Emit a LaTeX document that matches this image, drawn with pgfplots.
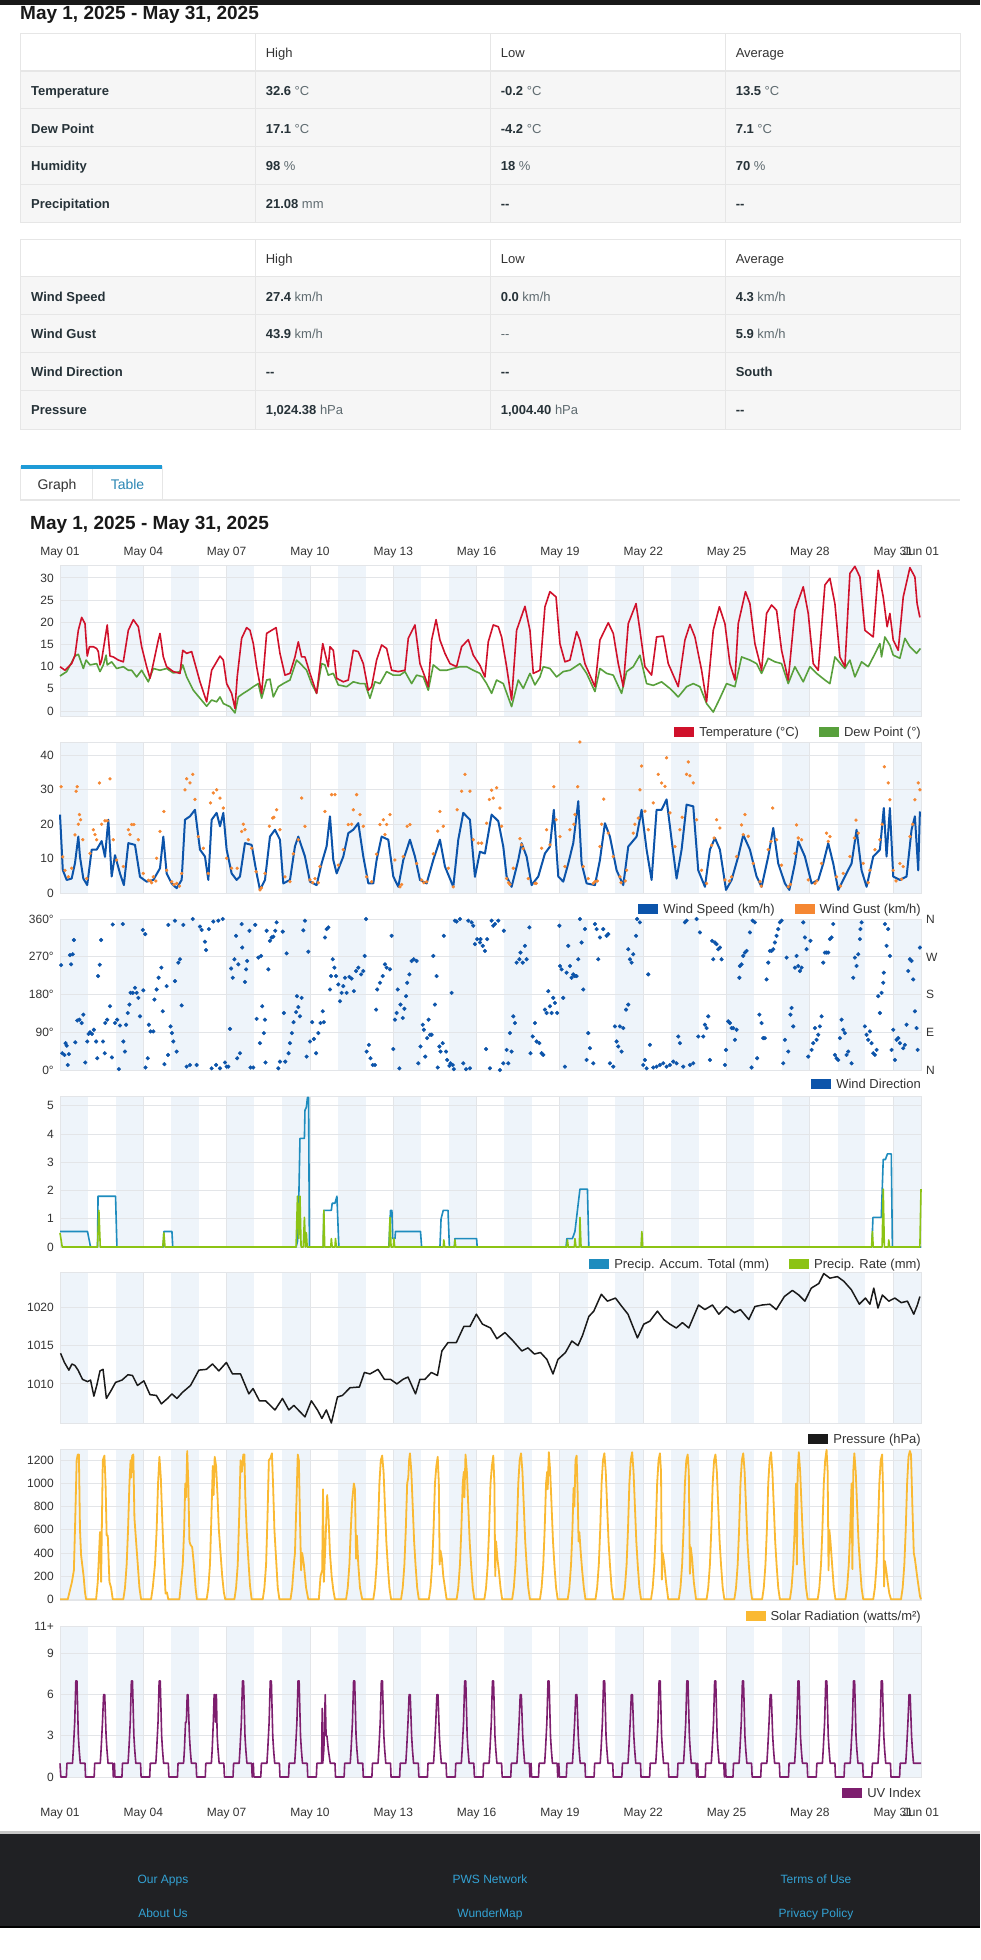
\documentclass[border=0pt]{standalone}
\usepackage{fontspec}
\setmainfont{Liberation Sans}
\usepackage{pgfplots}
\pgfplotsset{compat=1.18}
\definecolor{tempred}{HTML}{D0112B}
\definecolor{dewgreen}{HTML}{58A03C}
\definecolor{windblue}{HTML}{0C54AA}
\definecolor{gustorange}{HTML}{F58732}
\definecolor{accblue}{HTML}{1E8CBE}
\definecolor{rategreen}{HTML}{8CC314}
\definecolor{presblack}{HTML}{1A1A1A}
\definecolor{solaryellow}{HTML}{FAB932}
\definecolor{uvpurple}{HTML}{7D1E6E}
\definecolor{bandc}{HTML}{EEF4FA}
\definecolor{gridc}{HTML}{E3E5E8}
\definecolor{tickc}{HTML}{333333}
\definecolor{rowlab}{HTML}{263238}
\definecolor{unitc}{HTML}{5F6B70}
\definecolor{rowbg}{HTML}{F6F6F6}
\definecolor{linec}{HTML}{E6E6E6}
\definecolor{tabblue}{HTML}{1E9BD7}
\definecolor{tabtext}{HTML}{2A86B4}
\definecolor{footbg}{HTML}{202124}
\definecolor{footlink}{HTML}{33A2D4}
\newcommand{\tf}{\fontsize{13}{15}\selectfont}
\newcommand{\tfb}{\fontsize{13}{15}\selectfont\bfseries}
\newcommand{\lf}{\fontsize{13}{15}\selectfont}
\newcommand{\sw}[1]{\textcolor{#1}{\rule[-0.6pt]{20pt}{10pt}}}
\newcommand{\V}[2]{\textbf{#1} \textcolor{unitc}{#2}}
\newcommand{\D}{\textbf{-{}-}}
\pgfplotsset{
 wu/.style={
  width=861pt, height=151pt, scale only axis, anchor=south west,
  xmin=0, xmax=31,
  xtick={0,3,6,9,12,15,18,21,24,27,30,31},
  xticklabels={,,,,,,,,,,,},
  grid=major, major grid style={draw=gridc, line width=0.9pt},
  axis line style={draw=gridc, line width=0.9pt},
  major tick length=0pt,
  tick style={draw=none},
  tick label style={font=\fontsize{12}{14}\selectfont, text=tickc},
  yticklabel style={anchor=east, inner sep=0pt, xshift=-6pt},
  /pgf/number format/assume math mode=true,
  /pgf/number format/1000 sep={},
  scaled ticks=false,
  clip=false,
  every axis plot/.append style={line join=round},
 }
}
\begin{document}
\begin{tikzpicture}
\begin{scope}[x=1pt,y=-1pt]
\useasboundingbox (0,0) rectangle (980,1960);
\fill[white] (0,0) rectangle (980,1960);
% top bar
\fill[black!90] (0,0) rectangle (980,5);
\node[anchor=base west, inner sep=0pt, font=\fontsize{19}{22}\selectfont\bfseries, text=black!90] at (20,19) {May 1, 2025 - May 31, 2025};
% table 1
\fill[rowbg] (20,71) rectangle (960,222);
\draw[linec, line width=1pt] (20,33) rectangle (960,222);
\foreach \y in {71,108.5,146.5,184.5} \draw[linec, line width=1.5pt] (20,\y) -- (960,\y);
\foreach \x in {255,490,725} \draw[linec, line width=1pt] (\x,33) -- (\x,222);
\node[anchor=base west, inner sep=0pt, font=\tf, text=tickc] at (265.6,57.4) {High};
\node[anchor=base west, inner sep=0pt, font=\tf, text=tickc] at (500.6,57.4) {Low};
\node[anchor=base west, inner sep=0pt, font=\tf, text=tickc] at (735.6,57.4) {Average};
\node[anchor=base west, inner sep=0pt, font=\tfb, text=rowlab] at (31,95.4) {Temperature};
\node[anchor=base west, inner sep=0pt, font=\tfb, text=rowlab] at (31,133) {Dew Point};
\node[anchor=base west, inner sep=0pt, font=\tfb, text=rowlab] at (31,170.4) {Humidity};
\node[anchor=base west, inner sep=0pt, font=\tfb, text=rowlab] at (31,208.7) {Precipitation};
\node[anchor=base west, inner sep=0pt, font=\tf, text=rowlab] at (265.6,95.4) {\V{32.6}{°C}};
\node[anchor=base west, inner sep=0pt, font=\tf, text=rowlab] at (500.6,95.4) {\V{-0.2}{°C}};
\node[anchor=base west, inner sep=0pt, font=\tf, text=rowlab] at (735.6,95.4) {\V{13.5}{°C}};
\node[anchor=base west, inner sep=0pt, font=\tf, text=rowlab] at (265.6,133) {\V{17.1}{°C}};
\node[anchor=base west, inner sep=0pt, font=\tf, text=rowlab] at (500.6,133) {\V{-4.2}{°C}};
\node[anchor=base west, inner sep=0pt, font=\tf, text=rowlab] at (735.6,133) {\V{7.1}{°C}};
\node[anchor=base west, inner sep=0pt, font=\tf, text=rowlab] at (265.6,170.4) {\V{98}{\%}};
\node[anchor=base west, inner sep=0pt, font=\tf, text=rowlab] at (500.6,170.4) {\V{18}{\%}};
\node[anchor=base west, inner sep=0pt, font=\tf, text=rowlab] at (735.6,170.4) {\V{70}{\%}};
\node[anchor=base west, inner sep=0pt, font=\tf, text=rowlab] at (265.6,208.7) {\V{21.08}{mm}};
\node[anchor=base west, inner sep=0pt, font=\tf, text=rowlab] at (500.6,208.7) {\D};
\node[anchor=base west, inner sep=0pt, font=\tf, text=rowlab] at (735.6,208.7) {\D};
% table 2
\fill[rowbg] (20,276.7) rectangle (960,429);
\draw[linec, line width=1pt] (20,239.3) rectangle (960,429);
\foreach \y in {276.7,314.3,352.7,390.7} \draw[linec, line width=1.5pt] (20,\y) -- (960,\y);
\foreach \x in {255,490,725} \draw[linec, line width=1pt] (\x,239.3) -- (\x,429);
\node[anchor=base west, inner sep=0pt, font=\tf, text=tickc] at (265.6,263.7) {High};
\node[anchor=base west, inner sep=0pt, font=\tf, text=tickc] at (500.6,263.7) {Low};
\node[anchor=base west, inner sep=0pt, font=\tf, text=tickc] at (735.6,263.7) {Average};
\node[anchor=base west, inner sep=0pt, font=\tfb, text=rowlab] at (31,301.4) {Wind Speed};
\node[anchor=base west, inner sep=0pt, font=\tfb, text=rowlab] at (31,338.7) {Wind Gust};
\node[anchor=base west, inner sep=0pt, font=\tfb, text=rowlab] at (31,376.7) {Wind Direction};
\node[anchor=base west, inner sep=0pt, font=\tfb, text=rowlab] at (31,414) {Pressure};
\node[anchor=base west, inner sep=0pt, font=\tf, text=rowlab] at (265.6,301.4) {\V{27.4}{km/h}};
\node[anchor=base west, inner sep=0pt, font=\tf, text=rowlab] at (500.6,301.4) {\V{0.0}{km/h}};
\node[anchor=base west, inner sep=0pt, font=\tf, text=rowlab] at (735.6,301.4) {\V{4.3}{km/h}};
\node[anchor=base west, inner sep=0pt, font=\tf, text=rowlab] at (265.6,338.7) {\V{43.9}{km/h}};
\node[anchor=base west, inner sep=0pt, font=\tf, text=unitc] at (500.6,338.7) {-{}-};
\node[anchor=base west, inner sep=0pt, font=\tf, text=rowlab] at (735.6,338.7) {\V{5.9}{km/h}};
\node[anchor=base west, inner sep=0pt, font=\tf, text=rowlab] at (265.6,376.7) {\D};
\node[anchor=base west, inner sep=0pt, font=\tf, text=rowlab] at (500.6,376.7) {\D};
\node[anchor=base west, inner sep=0pt, font=\tf, text=rowlab] at (735.6,376.7) {\textbf{South}};
\node[anchor=base west, inner sep=0pt, font=\tf, text=rowlab] at (265.6,414) {\V{1,024.38}{hPa}};
\node[anchor=base west, inner sep=0pt, font=\tf, text=rowlab] at (500.6,414) {\V{1,004.40}{hPa}};
\node[anchor=base west, inner sep=0pt, font=\tf, text=rowlab] at (735.6,414) {\D};
% tabs
\fill[linec] (20,498.5) rectangle (960,501);
\draw[linec, line width=1pt] (20.6,466) -- (20.6,499) (92.5,466) -- (92.5,499) (162,466) -- (162,499);
\fill[tabblue] (20.6,465) rectangle (162,468.5);
\node[anchor=base, inner sep=0pt, font=\fontsize{14}{16}\selectfont, text=tickc] at (57,489) {Graph};
\node[anchor=base, inner sep=0pt, font=\fontsize{14}{16}\selectfont, text=tabtext] at (127.5,489) {Table};
\node[anchor=base west, inner sep=0pt, font=\fontsize{19}{22}\selectfont\bfseries, text=black!90] at (30,529) {May 1, 2025 - May 31, 2025};
% day bands
\foreach \t in {565,742,919,1096,1272,1449,1626} {
  \foreach \d in {0,2,...,30} {
    \fill[bandc] ({60+27.774*\d},\t) rectangle ({60+27.774*(\d+1)},{\t+151});
  }
}
% footer
\fill[black!22] (0,1831) rectangle (980,1834);
\fill[footbg] (0,1834) rectangle (980,1926);
\fill[black] (0,1926) rectangle (980,1928);
\foreach \x/\a/\b in {163/Our Apps/About Us,490/PWS Network/WunderMap,816/Terms of Use/Privacy Policy} {
  \node[anchor=base, inner sep=0pt, font=\fontsize{12}{14}\selectfont, text=footlink] at (\x,1883.3) {\a};
  \node[anchor=base, inner sep=0pt, font=\fontsize{12}{14}\selectfont, text=footlink] at (\x,1917.3) {\b};
}
\end{scope}

% ---------- Panel 1: temperature ----------
\begin{axis}[wu, at={(60pt,-716pt)}, ymin=-1.1, ymax=32.9,
  ytick={0,5,10,15,20,25,30}, yticklabels={0,5,10,15,20,25,30},
  xticklabel pos=right,
  xticklabels={May 01,May 04,May 07,May 10,May 13,May 16,May 19,May 22,May 25,May 28,May 31,Jun 01},
  xticklabel style={anchor=base, yshift=9.5pt}]
\addplot[dewgreen, line width=1.6pt] coordinates {
(0,7.9)(0.24,8.9)(0.54,12.4)(0.66,12.8)(0.84,9.6)(0.94,11.5)(1.08,10.4)(1.32,10.7)(1.44,8.9)(1.56,10.4)(1.66,12.6)(1.70,10.4)(1.86,11.1)(2.04,9.6)(2.28,10.0)(2.46,9.2)(2.58,9.2)(2.76,7.7)(2.94,9.2)(3.18,6.6)(3.36,9.6)(3.6,9.2)(3.84,9.6)(4.08,8.6)(4.32,8.9)(4.42,10.4)(4.56,7.7)(4.8,4.7)(5.04,2.9)(5.28,1.1)(5.46,2.5)(5.64,2.1)(5.76,3.2)(5.88,1.7)(6.12,1.0)(6.3,-0.4)(6.42,3.2)(6.6,4.0)(6.78,4.7)(6.96,5.5)(7.14,6.2)(7.26,2.9)(7.44,7.0)(7.56,7.2)(7.68,3.2)(7.86,5.5)(8.04,6.2)(8.28,7.0)(8.52,11.5)(8.7,10.4)(8.88,9.2)(9.06,6.2)(9.24,4.0)(9.42,10.7)(9.54,10.4)(9.66,8.1)(9.84,8.5)(10.02,5.9)(10.32,5.5)(10.56,6.6)(10.8,6.2)(10.98,6.2)(11.16,2.9)(11.34,6.6)(11.52,6.2)(11.76,8.9)(12.0,8.1)(12.24,8.1)(12.42,8.9)(12.66,6.2)(12.84,8.1)(13.08,7.7)(13.26,4.7)(13.44,10.4)(13.68,9.2)(13.92,9.2)(14.16,9.6)(14.4,10.0)(14.64,10.0)(14.88,9.2)(15.12,8.5)(15.36,6.2)(15.54,4.0)(15.72,7.0)(15.96,6.2)(16.26,1.0)(16.5,7.0)(16.68,5.1)(16.92,8.5)(17.1,5.9)(17.28,7.7)(17.4,10.0)(17.64,9.6)(17.88,7.7)(18.12,8.9)(18.36,9.2)(18.72,10.7)(18.96,8.5)(19.26,4.4)(19.44,9.6)(19.68,8.5)(19.92,8.1)(20.22,4.0)(20.4,8.9)(20.64,10.0)(20.88,12.6)(21.12,6.2)(21.36,5.8)(21.66,6.6)(21.96,5.1)(22.26,3.2)(22.56,5.5)(22.8,6.2)(23.04,5.5)(23.28,1.7)(23.52,-0.2)(23.76,2.9)(24.0,6.2)(24.3,5.5)(24.54,12.2)(24.84,11.5)(25.08,10.7)(25.26,8.5)(25.5,11.9)(25.74,11.1)(25.98,10.7)(26.22,6.2)(26.46,10.0)(26.76,6.6)(27.0,10.0)(27.24,8.5)(27.54,7.0)(27.72,6.2)(27.9,12.2)(28.14,10.4)(28.26,9.6)(28.44,11.5)(28.62,7.7)(28.86,11.1)(29.1,10.0)(29.34,12.9)(29.52,15.2)(29.58,12.2)(29.7,16.7)(29.88,14.8)(30.0,12.6)(30.24,11.9)(30.42,16.4)(30.6,14.5)(30.84,13.0)(30.98,14.1)
};
\addplot[tempred, line width=1.6pt] coordinates {
(0,10.0)(0.18,9.2)(0.42,10.7)(0.54,12.6)(0.66,18.2)(0.78,21.1)(0.9,19.7)(0.98,12.4)(1.06,14.5)(1.2,14.5)(1.32,14.1)(1.38,13.4)(1.44,10.4)(1.5,11.5)(1.7,19.4)(1.8,12.4)(1.92,12.2)(2.1,11.5)(2.28,11.1)(2.46,18.2)(2.64,20.6)(2.82,19.0)(2.94,14.5)(3.12,10.0)(3.24,7.4)(3.36,10.7)(3.54,16.0)(3.6,17.5)(3.72,12.2)(3.84,10.0)(4.08,8.9)(4.32,8.5)(4.42,13.7)(4.56,13.0)(4.74,13.4)(4.86,10.7)(5.04,6.6)(5.28,2.1)(5.46,9.2)(5.76,12.4)(5.88,11.5)(6.0,6.2)(6.18,4.0)(6.3,0.6)(6.38,7.7)(6.54,16.4)(6.72,18.8)(6.84,18.2)(6.96,15.2)(7.08,10.0)(7.26,4.0)(7.44,17.5)(7.62,18.2)(7.78,18.8)(7.92,13.0)(8.1,8.1)(8.28,8.5)(8.46,12.2)(8.58,15.6)(8.7,12.2)(8.82,12.2)(9.0,8.5)(9.24,4.0)(9.46,15.2)(9.66,10.0)(9.72,14.5)(9.84,13.7)(9.96,7.4)(10.2,6.6)(10.38,7.0)(10.56,13.7)(10.74,13.4)(10.92,10.7)(11.1,4.7)(11.22,5.5)(11.4,11.5)(11.58,14.9)(11.76,14.1)(11.94,9.2)(12.18,8.9)(12.42,9.2)(12.54,16.4)(12.78,19.4)(12.96,10.7)(13.14,7.7)(13.26,5.5)(13.38,16.0)(13.54,20.6)(13.68,16.0)(13.86,13.0)(14.04,10.7)(14.28,10.0)(14.46,14.5)(14.7,16.1)(14.88,12.6)(15.12,10.3)(15.3,7.7)(15.42,15.6)(15.6,19.4)(15.78,19.0)(15.9,16.7)(16.08,10.0)(16.26,2.5)(16.44,18.2)(16.74,23.6)(16.92,18.2)(17.04,8.5)(17.28,9.2)(17.46,23.5)(17.64,26.9)(17.86,25.7)(18.0,15.2)(18.18,11.1)(18.36,11.5)(18.6,17.9)(18.72,16.0)(18.9,10.7)(19.26,5.5)(19.44,16.0)(19.74,19.9)(19.92,17.5)(20.1,10.7)(20.28,5.5)(20.46,19.7)(20.74,24.2)(20.88,18.2)(21.06,10.0)(21.3,8.1)(21.48,16.7)(21.72,16.9)(21.9,10.7)(22.26,5.5)(22.5,16.0)(22.68,19.5)(22.86,16.7)(23.1,9.2)(23.28,2.1)(23.52,18.2)(23.74,23.5)(23.94,19.7)(24.12,10.7)(24.3,7.0)(24.42,19.7)(24.68,26.9)(24.84,24.2)(25.02,15.2)(25.26,9.2)(25.44,22.0)(25.62,23.9)(25.8,22.7)(25.98,13.7)(26.22,7.0)(26.46,22.7)(26.76,28.0)(26.94,22.0)(27.12,10.7)(27.3,9.2)(27.54,28.4)(27.72,29.9)(27.9,24.2)(28.08,12.2)(28.26,10.0)(28.44,31.0)(28.62,32.6)(28.8,30.2)(28.98,18.2)(29.28,16.7)(29.46,31.7)(29.64,25.7)(29.78,19.0)(29.88,22.0)(30.0,16.0)(30.18,13.7)(30.36,25.7)(30.6,32.3)(30.78,30.2)(30.86,24.2)(30.96,21.1)
};
\end{axis}

% ---------- Panel 2: wind ----------
\begin{axis}[wu, at={(60pt,-893pt)}, ymin=0, ymax=43.9,
  ytick={0,10,20,30,40}, yticklabels={0,10,20,30,40}]
\addplot[windblue, line width=2pt] coordinates {
(0,22.8)(0.1,6.7)(0.24,3.8)(0.42,4.2)(0.54,8.7)(0.66,16.4)(0.72,10.5)(0.84,4.2)(0.98,2.3)(1.14,12.6)(1.32,12.6)(1.5,15.1)(1.62,10.5)(1.74,21.3)(1.86,4.8)(1.98,11.0)(2.16,5.7)(2.3,2.3)(2.46,14.5)(2.7,14.0)(2.88,4.7)(3.12,3.3)(3.36,3.8)(3.6,7.2)(3.72,16.4)(3.84,5.7)(4.02,2.8)(4.2,1.4)(4.38,3.8)(4.5,21.3)(4.68,22.3)(4.86,24.2)(5.04,12.6)(5.22,10.6)(5.34,3.8)(5.46,21.3)(5.64,23.3)(5.76,19.4)(5.88,23.3)(6.0,12.6)(6.18,5.7)(6.36,3.8)(6.48,4.8)(6.66,14.5)(6.9,14.0)(7.08,5.7)(7.2,0.9)(7.38,3.8)(7.56,16.4)(7.74,18.4)(7.92,15.5)(8.04,2.8)(8.28,3.8)(8.46,13.6)(8.58,16.4)(8.82,10.6)(9.0,3.3)(9.24,2.3)(9.42,8.6)(9.6,13.6)(9.72,22.3)(9.84,9.6)(9.96,5.7)(10.2,10.6)(10.38,17.4)(10.56,18.4)(10.74,20.3)(10.92,10.6)(11.1,2.8)(11.28,2.8)(11.4,9.6)(11.58,16.4)(11.82,15.5)(12.0,4.8)(12.18,1.8)(12.36,9.6)(12.6,15.5)(12.78,10.6)(12.96,3.8)(13.2,2.8)(13.44,9.6)(13.68,15.5)(13.86,7.7)(14.16,1.8)(14.34,15.5)(14.52,23.3)(14.76,21.3)(14.94,4.7)(15.12,12.0)(15.3,11.5)(15.54,22.8)(15.78,20.9)(15.96,13.5)(16.08,4.8)(16.26,1.8)(16.5,9.6)(16.62,14.5)(16.8,10.6)(16.98,2.3)(17.22,4.8)(17.46,11.5)(17.64,13.5)(17.78,24.2)(17.94,4.8)(18.12,3.3)(18.3,8.6)(18.48,14.5)(18.66,26.7)(18.78,8.6)(18.96,2.8)(19.26,2.3)(19.44,9.6)(19.62,20.3)(19.8,16.4)(20.04,6.6)(20.28,2.3)(20.46,13.5)(20.76,16.4)(20.94,24.2)(21.12,12.6)(21.3,3.8)(21.48,24.2)(21.66,24.2)(21.84,27.2)(22.02,15.5)(22.2,4.2)(22.38,12.6)(22.56,25.7)(22.8,25.2)(22.98,6.6)(23.22,1.8)(23.4,12.6)(23.58,16.0)(23.76,12.6)(23.98,0.9)(24.18,3.8)(24.42,10.6)(24.6,16.9)(24.84,12.6)(25.08,4.8)(25.26,1.8)(25.5,10.6)(25.68,18.9)(25.86,8.6)(26.1,2.8)(26.26,0.9)(26.46,8.6)(26.58,15.0)(26.82,10.6)(27.06,2.8)(27.3,3.8)(27.48,8.6)(27.66,14.5)(27.84,8.6)(28.02,0.9)(28.26,4.8)(28.5,8.6)(28.68,18.4)(28.86,6.6)(29.04,1.8)(29.28,10.6)(29.52,12.6)(29.66,24.7)(29.76,10.6)(29.88,24.7)(30.0,4.8)(30.24,3.8)(30.48,4.8)(30.66,18.4)(30.78,22.3)(30.9,6.6)(30.96,23.7)
};
\addplot[only marks, mark=*, mark size=1.5pt, color=gustorange] coordinates {
(0.04,30.9)(0.1,10.5)(0.18,6.6)(0.3,4.7)(0.42,7.2)(0.54,16.9)(0.58,29.6)(0.62,30.9)(0.7,22.8)(0.74,21.3)(0.82,15.5)(0.96,4.2)(1.08,11.5)(1.2,18.4)(1.32,15.5)(1.42,32.0)(1.5,20.0)(1.62,21.0)(1.7,21.0)(1.8,33.2)(1.92,15.5)(2.04,9.6)(2.28,7.7)(2.46,18.4)(2.58,19.9)(2.66,19.9)(2.82,15.5)(3.0,5.7)(3.18,3.7)(3.36,4.7)(3.48,10.1)(3.6,17.9)(3.74,23.7)(3.84,6.6)(4.02,3.3)(4.2,2.8)(4.38,5.7)(4.5,30.0)(4.56,33.2)(4.68,32.0)(4.78,34.5)(4.86,27.2)(4.98,16.4)(5.16,13.0)(5.34,5.7)(5.42,26.2)(5.52,29.1)(5.64,30.0)(5.76,27.6)(5.88,24.7)(6.0,10.1)(6.18,7.2)(6.38,7.2)(6.54,17.9)(6.66,18.4)(6.78,15.5)(6.9,13.0)(7.06,6.2)(7.2,0.9)(7.38,5.7)(7.54,19.4)(7.66,21.8)(7.8,24.2)(7.92,18.4)(8.1,4.7)(8.28,3.3)(8.4,11.4)(8.58,15.5)(8.7,27.6)(8.82,19.4)(9.0,3.8)(9.18,4.2)(9.36,7.7)(9.54,23.7)(9.78,28.6)(9.9,28.6)(10.02,8.1)(10.2,12.6)(10.38,19.9)(10.56,24.2)(10.68,28.6)(10.8,22.8)(10.92,19.4)(11.04,4.7)(11.22,3.3)(11.4,11.3)(11.52,19.9)(11.64,21.3)(11.76,19.9)(11.88,22.8)(12.06,9.6)(12.24,1.8)(12.36,10.6)(12.5,19.4)(12.6,19.9)(12.84,8.6)(13.02,3.8)(13.2,3.3)(13.44,11.4)(13.68,23.7)(13.8,19.4)(13.98,7.2)(14.16,1.8)(14.3,24.2)(14.46,29.6)(14.58,34.5)(14.76,29.6)(14.88,15.5)(15.06,14.5)
(15.18,14.5)(15.36,20.3)(15.46,27.2)(15.54,29.9)(15.6,27.6)(15.72,30.6)(15.84,24.7)(15.9,19.4)(16.08,4.2)(16.32,7.2)(16.56,15.8)(16.68,12.9)(16.86,4.2)(17.1,2.8)(17.34,13.0)(17.52,18.4)(17.64,14.0)(17.78,30.9)(17.86,21.3)(18.0,16.4)(18.18,7.7)(18.36,18.4)(18.54,22.8)(18.64,30.9)(18.72,43.9)(18.84,7.7)(19.02,4.2)(19.26,3.3)(19.44,13.5)(19.58,27.3)(19.74,17.4)(19.92,10.6)(20.16,4.7)(20.4,6.6)(20.64,17.4)(20.82,21.8)(20.88,30.0)(20.94,36.9)(21.06,23.8)(21.18,18.4)(21.36,26.2)(21.54,34.5)(21.66,32.0)(21.78,31.0)(21.84,39.3)(21.96,23.3)(22.14,13.5)(22.32,18.4)(22.56,34.5)(22.62,38.1)(22.68,34.1)(22.8,32.0)(22.92,21.3)(23.1,6.6)(23.28,2.8)(23.46,13.9)(23.64,21.3)(23.76,18.9)(23.94,3.8)(24.18,4.7)(24.36,10.6)(24.54,19.8)(24.66,22.8)(24.78,16.5)(24.96,8.6)(25.2,3.3)(25.5,12.6)(25.66,24.7)(25.8,15.5)(25.98,8.1)(26.22,1.8)(26.46,11.5)(26.52,19.8)(26.7,15.5)(26.94,3.8)(27.18,2.8)(27.42,8.6)(27.6,17.4)(27.72,16.4)(27.96,4.7)(28.2,5.7)(28.44,10.6)(28.66,21.2)(28.74,17.4)(28.92,8.6)(29.16,6.6)(29.34,12.6)(29.52,15.5)(29.68,36.7)(29.82,32.0)(29.88,27.1)(30.0,6.6)(30.24,8.6)(30.36,7.7)(30.6,16.4)(30.78,27.1)(30.9,32.0)(30.96,30.0)
(3.25,3.5)(3.3,3.0)(3.45,3.5)(4.1,2.5)(4.3,2.0)(7.25,1.5)(9.1,3.0)(9.3,3.0)(12.3,2.5)(13.1,3.0)(16.15,3.0)(16.2,2.5)(17.15,2.8)(19.2,2.8)(19.35,3.5)(20.2,3.0)(20.35,3.5)(24.1,3.5)(25.25,2.0)(26.3,2.5)(27.25,3.5)(28.1,2.0)(29.1,3.0)(30.1,3.5)(30.3,4.0)
(0.66,20)(1.26,17)(2.52,17)(6.6,20)(7.7,22)(10.5,20)(11.7,17)(13.6,18)(16.62,14)(18.5,20)(19.5,20)(20.7,20)(22.4,22)(23.55,16)(24.6,17)(25.6,15)(26.58,16)(27.66,15)(28.6,16)(29.6,20)(30.7,20)
};
\end{axis}

% ---------- Panel 3: wind direction ----------
\begin{axis}[wu, at={(60pt,-1070pt)}, ymin=0, ymax=360,
  ytick={0,90,180,270,360}, yticklabels={0°,90°,180°,270°,360°}]
\addplot[only marks, mark=*, mark size=1.9pt, color=windblue] coordinates {
(0.04,250)(0.08,40)(0.16,36)(0.2,64)(0.24,58)(0.28,12)(0.32,38)(0.36,274)(0.4,252)(0.46,276)(0.5,310)(0.55,66)(0.62,118)(0.7,120)(0.78,112)(0.84,132)(0.91,18)(0.98,68)(1.03,86)(1.08,90)(1.15,86)(1.22,96)(1.3,68)(1.34,28)(1.37,224)(1.43,251)(1.48,310)(1.55,68)(1.61,40)(1.63,112)(1.7,120)(1.8,152)(1.87,30)(1.9,347)(1.98,112)(2.06,120)(2.12,2)(2.16,106)(2.26,348)(2.28,68)(2.34,44)(2.38,108)(2.44,136)(2.5,156)(2.54,184)(2.62,184)(2.7,196)(2.76,184)(2.82,172)(2.88,128)(2.98,334)(3.0,190)(3.07,324)(3.08,6)(3.16,28)(3.2,108)(3.26,92)(3.36,92)(3.4,168)(3.48,192)(3.55,220)(3.65,244)(3.7,140)(3.76,14)(3.84,200)(3.89,36)(3.9,346)(3.98,104)(4.03,88)(4.08,68)(4.14,356)(4.14,212)(4.2,44)(4.26,256)(4.32,264)(4.38,154)(4.44,346)(4.56,8)(4.68,12)(4.78,360)(4.92,12)(5.04,342)(5.1,334)(5.22,306)(5.26,286)(5.36,336)(5.46,4)(5.52,354)(5.62,12)(5.7,356)(5.76,4)(5.86,360)(5.94,18)(6.0,8)(6.06,8)(6.12,98)(6.16,242)(6.22,220)(6.28,264)(6.34,320)(6.38,28)(6.42,252)(6.48,40)(6.54,348)(6.56,292)(6.66,210)(6.7,240)(6.74,260)(6.82,332)(6.86,6)(6.96,6)(7.03,346)(7.08,122)(7.14,268)(7.2,64)(7.24,272)(7.28,152)(7.34,88)(7.38,120)(7.4,18)(7.44,332)(7.5,240)(7.56,308)(7.62,316)(7.68,318)(7.75,332)(7.8,352)(7.86,4)(7.92,20)(8.02,330)(8.06,136)(8.11,20)(8.16,278)(8.23,40)(8.28,64)(8.35,88)(8.41,114)(8.5,138)(8.53,176)(8.58,150)(8.64,128)(8.7,172)(8.76,333)(8.82,356)(8.88,32)(8.94,282)(9.0,68)(9.08,114)(9.14,74)(9.22,40)(9.3,88)(9.38,112)(9.46,140)(9.5,114)(9.54,316)(9.6,336)(9.66,340)(9.72,192)(9.76,224)(9.82,264)(9.88,244)(9.94,224)(10.02,204)(10.08,164)(10.14,184)(10.2,200)(10.26,220)(10.32,184)(10.42,222)(10.5,218)(10.58,188)(10.66,236)(10.74,244)(10.84,228)(10.92,236)(10.97,272)(11.02,360)(11.04,44)(11.12,60)(11.18,28)(11.26,12)(11.34,12)(11.38,144)(11.42,192)(11.52,208)(11.62,224)(11.7,252)(11.76,244)(11.88,240)(11.94,320)(12.0,50)(12.06,120)(12.12,136)(12.16,192)(12.22,4)(12.26,156)(12.34,124)(12.4,146)(12.46,176)(12.5,208)(12.58,228)(12.66,260)(12.74,264)(12.84,260)(12.9,16)(12.98,56)(13.06,108)(13.1,96)(13.15,32)(13.22,76)(13.27,120)(13.32,84)(13.38,84)(13.44,272)(13.5,156)(13.56,224)(13.6,6)(13.66,56)(13.7,44)(13.78,64)(13.82,320)(13.9,44)(13.94,24)(14.02,10)(14.06,16)(14.1,184)(14.14,12)(14.18,2)(14.22,356)(14.28,354)(14.4,360)(14.52,16)(14.62,2)(14.7,356)(14.76,4)(14.82,352)(14.88,344)(14.94,300)(15.02,312)(15.12,304)
(15.14,312)(15.22,296)(15.3,284)(15.34,50)(15.38,312)(15.48,4)(15.54,356)(15.6,344)(15.66,348)(15.78,356)(15.84,0)(15.96,16)(15.98,332)(16.08,48)(16.14,16)(16.2,88)(16.26,44)(16.32,128)(16.38,112)(16.44,256)(16.54,264)(16.58,280)(16.66,256)(16.74,296)(16.8,264)(16.9,340)(16.94,40)(17.02,80)(17.1,112)(17.16,68)(17.26,64)(17.34,40)(17.4,36)(17.46,144)(17.52,136)(17.58,188)(17.64,152)(17.7,136)(17.76,172)(17.82,160)(17.9,136)(17.98,344)(18.0,248)(18.06,240)(18.12,172)(18.18,8)(18.24,232)(18.3,296)(18.36,248)(18.42,220)(18.48,228)(18.54,224)(18.6,224)(18.66,264)(18.72,360)(18.78,304)(18.84,192)(18.9,336)(18.96,24)(19.02,88)(19.08,52)(19.2,16)(19.26,348)(19.32,336)(19.38,264)(19.44,316)(19.56,336)(19.68,320)(19.74,324)(19.8,16)(19.92,8)(19.98,104)(20.04,68)(20.1,56)(20.16,104)(20.22,44)(20.28,100)(20.38,144)(20.46,156)(20.46,288)(20.52,264)(20.58,256)(20.64,276)(20.74,320)(20.78,360)(20.88,352)(21.0,12)(21.06,24)(21.12,4)(21.18,228)(21.24,60)(21.36,6)(21.48,8)(21.6,12)(21.72,16)(21.84,8)(21.96,12)(22.08,20)(22.2,16)(22.26,80)(22.32,64)(22.44,8)(22.5,352)(22.56,356)(22.68,12)(22.8,16)(22.92,360)(22.98,80)(23.04,328)(23.16,80)(23.22,108)(23.28,100)(23.34,128)(23.4,24)(23.48,308)(23.52,264)(23.58,304)(23.64,300)(23.7,288)(23.76,292)(23.82,264)(23.94,12)(23.98,48)(24.06,116)(24.12,112)(24.18,100)(24.24,100)(24.3,72)(24.36,96)(24.46,220)(24.48,248)(24.54,252)(24.6,272)(24.66,280)(24.72,284)(24.84,328)(24.9,6)(24.94,356)(25.02,352)(25.1,28)(25.18,132)(25.26,112)(25.32,76)(25.38,76)(25.44,216)(25.5,256)(25.56,284)(25.62,284)(25.68,288)(25.74,304)(25.8,320)(25.86,336)(25.92,352)(25.98,356)(26.04,16)(26.1,72)(26.16,268)(26.22,44)(26.3,132)(26.34,148)(26.4,104)(26.46,244)(26.52,272)(26.58,248)(26.64,236)(26.7,244)(26.76,352)(26.82,316)(26.88,288)(26.94,32)(27.02,308)(27.06,48)(27.12,64)(27.18,100)(27.24,72)(27.3,84)(27.36,104)(27.42,128)(27.48,256)(27.54,280)(27.6,280)(27.66,280)(27.72,312)(27.78,316)(27.84,348)(27.9,36)(27.96,28)(28.02,24)(28.08,76)(28.14,120)(28.2,96)(28.26,88)(28.32,36)(28.38,44)(28.5,16)(28.56,220)(28.62,268)(28.68,248)(28.74,276)(28.8,312)(28.82,336)(28.86,352)(28.98,104)(29.04,84)(29.1,72)(29.16,92)(29.22,64)(29.28,40)(29.34,36)(29.4,48)(29.46,176)(29.52,136)(29.58,184)(29.64,208)(29.66,232)(29.7,348)(29.76,296)(29.82,336)(29.88,272)(29.94,48)(30.0,96)(30.06,24)(30.12,72)(30.18,76)(30.24,64)(30.36,52)(30.42,60)(30.48,108)(30.54,236)(30.6,264)(30.66,260)(30.72,216)(30.78,140)(30.84,100)(30.88,48)(30.96,292)
};
\end{axis}

% ---------- Panel 4: precipitation ----------
\begin{axis}[wu, at={(60pt,-1247pt)}, ymin=0, ymax=5.35,
  ytick={0,1,2,3,4,5}, yticklabels={0,1,2,3,4,5}]
\addplot[accblue, line width=1.6pt] coordinates {
(0,0.55)(0.99,0.55)(1.1,0)(1.35,0)(1.37,1.8)(2.0,1.8)(2.05,0)(3.72,0)(3.74,0.55)(4.03,0.55)(4.06,0)(8.5,0)(8.55,0.2)(8.6,1.8)(8.64,3.85)(8.8,3.85)(8.82,4.85)(8.87,4.95)(8.91,5.3)(8.95,5.3)(8.98,0)(9.48,0)(9.5,1.3)(9.77,1.3)(9.8,1.55)(9.9,1.55)(9.97,1.8)(10.04,0)(11.84,0)(11.9,1.3)(11.95,1.3)(11.98,0.3)(12.06,0.3)(12.08,0.55)(12.98,0.55)(13.02,0)(13.68,0)(13.72,1.0)(13.8,1.3)(13.97,1.3)(14.02,0)(14.2,0)(14.22,0.3)(15.0,0.3)(15.02,0)(18.22,0)(18.25,0.3)(18.45,0.3)(18.54,0.55)(18.63,1.3)(18.72,2.05)(18.99,2.05)(19.04,0)(29.23,0)(29.27,1.05)(29.57,1.05)(29.64,3.1)(29.72,3.1)(29.79,3.3)(29.93,3.3)(29.97,0)(31,0)
};
\addplot[rategreen, line width=1.6pt] coordinates {
(0,0.5)(0.08,0)(1.35,0)(1.4,1.3)(1.45,0)(3.7,0)(3.74,0.5)(3.78,0)(8.5,0)(8.55,1.8)(8.6,0.3)(8.64,1.8)(8.68,0)(8.76,0)(8.8,1.05)(8.84,0)(8.87,0.5)(8.9,0)(9.47,0)(9.5,1.3)(9.53,0)(9.75,0)(9.77,0.3)(9.8,0)(9.9,0)(9.92,0.3)(9.95,0)(11.85,0)(11.88,1.05)(11.92,0)(12.0,0)(12.02,0.3)(12.05,0)(13.8,0)(13.82,0.25)(13.85,0)(14.2,0)(14.22,0.25)(14.25,0)(18.25,0)(18.27,0.25)(18.3,0)(18.52,0)(18.54,0.3)(18.58,0)(18.7,0)(18.72,1.05)(18.76,0)(20.92,0)(20.95,0.55)(20.98,0)(29.22,0)(29.25,0.55)(29.28,0)(29.6,0)(29.64,2.05)(29.68,0)(29.82,0)(29.84,0.25)(29.87,0)(30.96,0)(31,2.05)
};
\end{axis}

% ---------- Panel 5: pressure ----------
\begin{axis}[wu, at={(60pt,-1423pt)}, ymin=1004.9, ymax=1024.6,
  ytick={1010,1015,1020}, yticklabels={1010,1015,1020}]
\addplot[presblack, line width=1.5pt] coordinates {
(0.02,1014.0)(0.16,1012.8)(0.32,1011.8)(0.43,1012.6)(0.54,1012.4)(0.65,1011.8)(0.81,1010.6)(0.99,1010.3)(1.1,1010.5)(1.22,1008.4)(1.33,1009.9)(1.44,1011.7)(1.55,1011.9)(1.67,1008.1)(1.85,1009.2)(2.0,1010.2)(2.23,1010.5)(2.45,1011.2)(2.61,1011.1)(2.79,1009.8)(3.02,1010.4)(3.24,1008.6)(3.47,1008.5)(3.65,1007.4)(3.87,1008.1)(4.03,1008.7)(4.21,1008.1)(4.41,1008.9)(4.7,1009.8)(5.0,1011.8)(5.27,1011.9)(5.49,1012.6)(5.72,1011.7)(5.99,1012.8)(6.21,1011.3)(6.5,1011.3)(6.8,1008.7)(6.95,1009.4)(7.18,1007.8)(7.4,1007.8)(7.74,1006.6)(8.01,1008.1)(8.24,1006.6)(8.42,1007.2)(8.82,1005.7)(9.05,1007.8)(9.27,1006.6)(9.43,1005.5)(9.59,1006.6)(9.77,1004.9)(9.99,1008.3)(10.17,1008.5)(10.44,1009.5)(10.78,1009.6)(10.96,1011.5)(11.16,1011.3)(11.45,1011.9)(11.68,1010.6)(11.9,1010.6)(12.13,1010.0)(12.35,1010.6)(12.53,1010.9)(12.8,1008.7)(12.96,1010.6)(13.14,1010.6)(13.37,1011.5)(13.59,1011.1)(13.75,1014.3)(13.97,1015.4)(14.27,1015.4)(14.54,1017.5)(14.76,1017.5)(14.99,1019.1)(15.21,1017.8)(15.5,1017.3)(15.73,1015.9)(16.02,1016.7)(16.29,1015.7)(16.63,1014.3)(16.85,1014.7)(17.08,1013.9)(17.3,1014.1)(17.53,1013.2)(17.75,1011.3)(17.93,1013.2)(18.2,1014.1)(18.43,1015.6)(18.65,1015.0)(18.81,1016.3)(19.04,1018.8)(19.22,1019.5)(19.49,1021.7)(19.71,1020.8)(20.0,1021.2)(20.23,1020.1)(20.45,1019.1)(20.79,1016.0)(21.02,1017.8)(21.24,1018.2)(21.51,1019.5)(21.74,1018.4)(21.96,1017.8)(22.19,1017.3)(22.41,1018.0)(22.64,1017.3)(22.99,1020.3)(23.22,1019.7)(23.49,1020.3)(23.72,1019.1)(23.99,1020.1)(24.28,1019.3)(24.5,1019.7)(24.8,1018.4)(25.02,1020.1)(25.29,1020.3)(25.56,1020.4)(25.79,1019.7)(26.08,1021.4)(26.37,1022.2)(26.6,1021.6)(26.82,1020.8)(27.05,1022.5)(27.32,1023.1)(27.5,1024.4)(27.72,1023.8)(27.99,1024.0)(28.22,1023.4)(28.49,1022.3)(28.78,1020.4)(29.0,1021.2)(29.16,1020.4)(29.3,1022.5)(29.45,1019.9)(29.61,1021.6)(29.84,1020.8)(30.06,1021.2)(30.29,1020.6)(30.51,1020.8)(30.74,1019.1)(30.87,1020.3)(30.96,1021.4)
};
\end{axis}

% ---------- Panel 6: solar radiation ----------
\begin{axis}[wu, at={(60pt,-1600pt)}, ymin=-6, ymax=1297,
  ytick={0,200,400,600,800,1000,1200}, yticklabels={0,200,400,600,800,1000,1200}]
\addplot[solaryellow, line width=1.8pt] coordinates {
(0,0)(0.28,0)(0.36,80)(0.43,150)(0.5,250)(0.55,700)(0.6,1200)(0.64,1250)(0.68,1250)(0.72,600)(0.76,380)(0.8,300)(0.85,200)(0.9,60)(0.94,0)
(1.3,0)(1.36,150)(1.44,580)(1.48,150)(1.54,1200)(1.6,1240)(1.64,1000)(1.68,550)(1.72,550)(1.78,150)(1.84,100)(1.9,0)
(2.28,0)(2.34,100)(2.4,300)(2.45,600)(2.5,1000)(2.54,1200)(2.56,1050)(2.6,1240)(2.64,1250)(2.68,700)(2.74,500)(2.8,300)(2.86,100)(2.92,0)
(3.28,0)(3.34,100)(3.42,300)(3.48,600)(3.53,1000)(3.58,1230)(3.63,1050)(3.68,700)(3.72,450)(3.76,250)(3.8,50)(3.85,60)(3.9,0)
(4.3,0)(4.36,150)(4.42,300)(4.47,600)(4.51,1000)(4.54,880)(4.58,1280)(4.62,1000)(4.66,500)(4.7,470)(4.76,450)(4.82,300)(4.88,100)(4.93,0)
(5.28,0)(5.34,100)(5.4,300)(5.45,700)(5.5,1150)(5.53,900)(5.57,1230)(5.62,1150)(5.67,900)(5.72,600)(5.78,400)(5.84,200)(5.9,60)(5.95,0)
(6.28,0)(6.34,100)(6.4,300)(6.45,700)(6.5,1200)(6.55,1100)(6.6,1250)(6.64,1250)(6.67,900)(6.72,600)(6.78,350)(6.84,120)(6.9,0)
(7.3,0)(7.36,100)(7.42,300)(7.47,700)(7.52,1200)(7.58,1220)(7.63,1260)(7.67,1000)(7.72,600)(7.78,350)(7.84,100)(7.9,0)
(8.3,0)(8.36,100)(8.42,300)(8.46,400)(8.52,900)(8.56,1250)(8.6,1200)(8.64,700)(8.68,250)(8.72,400)(8.78,300)(8.86,100)(8.94,0)
(9.32,0)(9.38,200)(9.44,250)(9.47,950)(9.5,150)(9.56,500)(9.62,900)(9.67,700)(9.72,400)(9.78,200)(9.84,80)(9.9,0)
(10.3,0)(10.36,100)(10.42,300)(10.47,600)(10.52,850)(10.58,1000)(10.62,950)(10.66,350)(10.69,550)(10.74,300)(10.8,100)(10.88,0)
(11.28,0)(11.34,100)(11.4,300)(11.45,600)(11.5,1000)(11.55,1200)(11.6,1240)(11.65,1100)(11.7,800)(11.75,500)(11.8,300)(11.86,100)(11.92,0)
(12.28,0)(12.34,100)(12.4,300)(12.45,600)(12.5,1000)(12.54,1050)(12.57,1200)(12.6,1260)(12.65,1100)(12.7,800)(12.75,500)(12.8,300)(12.86,100)(12.92,0)
(13.28,0)(13.34,100)(13.4,300)(13.45,600)(13.5,1000)(13.55,1150)(13.6,1230)(13.64,1000)(13.67,300)(13.7,420)(13.75,350)(13.8,200)(13.86,100)(13.92,0)
(14.28,0)(14.34,100)(14.4,300)(14.45,600)(14.5,1000)(14.54,1100)(14.56,880)(14.6,1250)(14.65,1100)(14.7,800)(14.75,500)(14.8,300)(14.86,100)(14.92,0)
(15.28,0)(15.34,100)(15.4,300)(15.45,600)(15.5,1000)(15.55,1150)(15.6,1240)(15.64,1000)(15.67,200)(15.7,500)(15.75,350)(15.8,250)(15.86,100)(15.92,0)
(16.28,0)(16.34,100)(16.4,300)(16.45,600)(16.5,1000)(16.55,1200)(16.6,1260)(16.65,1100)(16.7,800)(16.75,500)(16.8,300)(16.86,100)(16.92,0)
(17.28,0)(17.34,100)(17.4,300)(17.45,600)(17.5,1000)(17.54,1100)(17.56,950)(17.6,1270)(17.65,1100)(17.7,800)(17.75,500)(17.8,300)(17.86,100)(17.92,0)
(18.28,0)(18.34,100)(18.4,300)(18.45,600)(18.49,960)(18.52,800)(18.56,1200)(18.6,1240)(18.64,900)(18.67,500)(18.7,580)(18.75,400)(18.8,250)(18.86,100)(18.92,0)
(19.28,0)(19.34,100)(19.4,300)(19.45,600)(19.5,1000)(19.55,1200)(19.6,1260)(19.65,1100)(19.7,800)(19.75,500)(19.8,300)(19.86,100)(19.92,0)
(20.28,0)(20.34,100)(20.4,300)(20.45,600)(20.5,1000)(20.55,1200)(20.6,1270)(20.65,1100)(20.7,800)(20.75,500)(20.8,300)(20.86,100)(20.92,0)
(21.28,0)(21.34,100)(21.4,300)(21.45,600)(21.5,1000)(21.55,1200)(21.6,1260)(21.64,1100)(21.67,170)(21.7,400)(21.76,300)(21.82,150)(21.9,0)
(22.28,0)(22.34,100)(22.4,300)(22.45,600)(22.5,1000)(22.55,1200)(22.6,1250)(22.64,1100)(22.68,220)(22.71,450)(22.76,350)(22.82,150)(22.9,0)
(23.28,0)(23.34,100)(23.4,300)(23.45,600)(23.5,1000)(23.55,1200)(23.6,1250)(23.65,1100)(23.7,800)(23.75,500)(23.8,300)(23.86,100)(23.92,0)
(24.28,0)(24.34,100)(24.4,300)(24.45,600)(24.5,1000)(24.55,1200)(24.6,1260)(24.65,1100)(24.7,800)(24.75,500)(24.8,300)(24.86,100)(24.92,0)
(25.28,0)(25.34,100)(25.4,300)(25.45,600)(25.5,1000)(25.55,1200)(25.6,1270)(25.65,1100)(25.7,800)(25.75,500)(25.8,300)(25.86,100)(25.92,0)
(26.28,0)(26.34,100)(26.4,300)(26.45,600)(26.5,1000)(26.53,300)(26.56,1100)(26.6,1270)(26.65,1100)(26.7,800)(26.75,500)(26.8,300)(26.86,100)(26.92,0)
(27.28,0)(27.34,100)(27.4,300)(27.45,600)(27.5,1000)(27.55,1200)(27.6,1290)(27.64,1100)(27.67,250)(27.7,600)(27.74,500)(27.8,300)(27.86,100)(27.92,0)
(28.28,0)(28.34,100)(28.4,300)(28.45,600)(28.5,1000)(28.53,260)(28.56,1100)(28.6,1260)(28.65,1100)(28.7,800)(28.75,500)(28.8,300)(28.86,100)(28.92,0)
(29.28,0)(29.34,100)(29.4,300)(29.45,600)(29.5,1000)(29.55,1200)(29.6,1250)(29.64,900)(29.67,110)(29.7,330)(29.75,250)(29.8,150)(29.86,50)(29.92,0)
(30.28,0)(30.34,100)(30.4,300)(30.45,600)(30.5,1000)(30.55,1230)(30.6,1280)(30.64,1250)(30.69,800)(30.74,400)(30.78,350)(30.86,200)(30.96,30)(31,0)
};
\end{axis}

% ---------- Panel 7: UV index ----------
\begin{axis}[wu, at={(60pt,-1777pt)}, ymin=0, ymax=11,
  ytick={0,3,6,9,11}, yticklabels={0,3,6,9,11+},
  xticklabels={May 01,May 04,May 07,May 10,May 13,May 16,May 19,May 22,May 25,May 28,May 31,Jun 01},
  xticklabel style={anchor=base, yshift=-39pt}]
\addplot[uvpurple, line width=1.6pt] coordinates {
(0,1)(0.03,0)
(0.23,0)(0.25,1)(0.45,1)(0.48,2)(0.53,4)(0.57,7)(0.61,7)(0.66,3)(0.69,2)(0.73,1)(0.9,1)(0.92,0)
(1.23,0)(1.25,1)(1.45,1)(1.48,2)(1.53,4)(1.57,6)(1.61,6)(1.66,3)(1.69,2)(1.73,1)(1.9,1)(1.92,0)(1.96,1)(1.98,0)
(2.23,0)(2.25,1)(2.45,1)(2.48,2)(2.53,4)(2.57,7)(2.61,7)(2.66,3)(2.69,2)(2.73,1)(2.9,1)(2.92,0)
(3.23,0)(3.25,1)(3.45,1)(3.48,2)(3.53,4)(3.57,7)(3.61,7)(3.66,3)(3.69,2)(3.73,1)(3.9,1)(3.92,0)
(4.23,0)(4.25,1)(4.45,1)(4.48,2)(4.52,4)(4.55,4)(4.58,6)(4.61,6)(4.66,3)(4.69,2)(4.73,1)(4.9,1)(4.92,0)
(5.23,0)(5.25,1)(5.45,1)(5.48,2)(5.52,4)(5.55,6)(5.58,6)(5.6,4)(5.63,6)(5.66,3)(5.69,2)(5.73,1)(5.9,1)(5.92,0)
(6.23,0)(6.25,1)(6.45,1)(6.48,2)(6.53,4)(6.57,7)(6.61,7)(6.66,3)(6.69,2)(6.73,1)(6.9,1)(6.92,0)(6.96,1)(6.98,0)
(7.23,0)(7.25,1)(7.45,1)(7.48,2)(7.53,4)(7.57,7)(7.61,7)(7.66,3)(7.69,2)(7.73,1)(7.9,1)(7.92,0)
(8.23,0)(8.25,1)(8.45,1)(8.48,2)(8.53,4)(8.57,7)(8.61,7)(8.66,3)(8.69,2)(8.73,1)(8.9,1)(8.92,0)
(9.23,0)(9.25,1)(9.42,1)(9.44,5)(9.46,1)(9.5,2)(9.55,6)(9.58,3)(9.61,3)(9.66,2)(9.73,1)(9.9,1)(9.92,0)
(10.23,0)(10.25,1)(10.45,1)(10.48,2)(10.53,4)(10.57,7)(10.61,7)(10.66,3)(10.69,2)(10.73,1)(10.9,1)(10.92,0)
(11.23,0)(11.25,1)(11.45,1)(11.48,2)(11.53,4)(11.57,7)(11.61,7)(11.66,3)(11.69,2)(11.73,1)(11.9,1)(11.92,0)
(12.23,0)(12.25,1)(12.45,1)(12.48,2)(12.53,4)(12.57,6)(12.61,6)(12.66,3)(12.69,2)(12.73,1)(12.9,1)(12.92,0)
(13.23,0)(13.25,1)(13.45,1)(13.48,2)(13.53,4)(13.57,6)(13.61,6)(13.66,3)(13.69,2)(13.73,1)(13.9,1)(13.92,0)
(14.23,0)(14.25,1)(14.45,1)(14.48,2)(14.53,4)(14.57,7)(14.61,7)(14.66,3)(14.69,2)(14.73,1)(14.9,1)(14.92,0)
(15.23,0)(15.25,1)(15.45,1)(15.48,2)(15.53,4)(15.57,7)(15.61,7)(15.66,3)(15.69,2)(15.73,1)(15.9,1)(15.92,0)
(16.23,0)(16.25,1)(16.45,1)(16.48,2)(16.53,4)(16.57,6)(16.61,6)(16.66,3)(16.69,2)(16.73,1)(16.9,1)(16.92,0)(16.96,1)(16.98,0)
(17.23,0)(17.25,1)(17.45,1)(17.48,2)(17.53,4)(17.57,7)(17.61,7)(17.66,3)(17.69,2)(17.73,1)(17.9,1)(17.92,0)(17.96,1)(17.98,0)
(18.23,0)(18.25,1)(18.45,1)(18.48,2)(18.53,4)(18.57,6)(18.61,6)(18.66,3)(18.69,2)(18.73,1)(18.9,1)(18.92,0)
(19.23,0)(19.25,1)(19.45,1)(19.48,2)(19.53,4)(19.57,7)(19.61,7)(19.66,3)(19.69,2)(19.73,1)(19.9,1)(19.92,0)
(20.23,0)(20.25,1)(20.45,1)(20.48,2)(20.53,4)(20.57,6)(20.61,6)(20.66,3)(20.69,2)(20.73,1)(20.9,1)(20.92,0)
(21.23,0)(21.25,1)(21.45,1)(21.48,2)(21.53,4)(21.57,7)(21.61,7)(21.66,3)(21.69,2)(21.73,1)(21.9,1)(21.92,0)
(22.23,0)(22.25,1)(22.45,1)(22.48,2)(22.53,4)(22.57,7)(22.61,7)(22.66,3)(22.69,2)(22.73,1)(22.9,1)(22.92,0)(22.96,1)(22.98,0)
(23.23,0)(23.25,1)(23.45,1)(23.48,2)(23.53,4)(23.57,7)(23.61,7)(23.66,3)(23.69,2)(23.73,1)(23.9,1)(23.92,0)(23.96,1)(23.98,0)
(24.23,0)(24.25,1)(24.45,1)(24.48,2)(24.53,4)(24.57,7)(24.61,7)(24.66,3)(24.69,2)(24.73,1)(24.9,1)(24.92,0)
(25.23,0)(25.25,1)(25.45,1)(25.48,2)(25.53,4)(25.57,6)(25.61,6)(25.66,3)(25.69,2)(25.73,1)(25.9,1)(25.92,0)
(26.23,0)(26.25,1)(26.45,1)(26.48,2)(26.53,4)(26.57,7)(26.61,7)(26.66,3)(26.69,2)(26.73,1)(26.9,1)(26.92,0)
(27.23,0)(27.25,1)(27.45,1)(27.48,2)(27.53,4)(27.57,7)(27.61,7)(27.66,3)(27.69,2)(27.73,1)(27.9,1)(27.92,0)
(28.23,0)(28.25,1)(28.45,1)(28.48,2)(28.53,4)(28.57,7)(28.61,7)(28.66,3)(28.69,2)(28.73,1)(28.9,1)(28.92,0)
(29.23,0)(29.25,1)(29.45,1)(29.48,2)(29.53,4)(29.57,7)(29.61,7)(29.66,3)(29.69,2)(29.73,1)(29.9,1)(29.92,0)
(30.23,0)(30.25,1)(30.45,1)(30.48,2)(30.53,4)(30.57,6)(30.61,6)(30.66,3)(30.69,2)(30.73,1)(31,1)
};
\end{axis}

% ---------- legends and side labels ----------
\begin{scope}[x=1pt,y=-1pt]
\node[anchor=base east, inner sep=0pt, font=\lf, text=tickc] at (921,736.6) {\sw{tempred}\hspace{5pt}Temperature (°C)\hspace{20pt}\sw{dewgreen}\hspace{5pt}Dew Point (°)};
\node[anchor=base east, inner sep=0pt, font=\lf, text=tickc] at (921,913.6) {\sw{windblue}\hspace{5pt}Wind Speed (km/h)\hspace{20pt}\sw{gustorange}\hspace{5pt}Wind Gust (km/h)};
\node[anchor=base east, inner sep=0pt, font=\lf, text=tickc] at (921,1088.6) {\sw{windblue}\hspace{5pt}Wind Direction};
\node[anchor=base east, inner sep=0pt, font=\lf, text=tickc] at (921,1268.6) {\sw{accblue}\hspace{5pt}Precip. Accum. Total (mm)\hspace{20pt}\sw{rategreen}\hspace{5pt}Precip. Rate (mm)};
\node[anchor=base east, inner sep=0pt, font=\lf, text=tickc] at (921,1443.6) {\sw{presblack}\hspace{5pt}Pressure (hPa)};
\node[anchor=base east, inner sep=0pt, font=\lf, text=tickc] at (921,1620.6) {\sw{solaryellow}\hspace{5pt}Solar Radiation (watts/m²)};
\node[anchor=base east, inner sep=0pt, font=\lf, text=tickc] at (921,1797.6) {\sw{uvpurple}\hspace{5pt}UV Index};
\foreach \yy/\lab in {919/N,956.75/W,994.5/S,1032.25/E,1070/N}
  \node[anchor=base west, inner sep=0pt, font=\fontsize{12}{14}\selectfont, text=tickc] at (926,\yy+4.3) {\lab};
\end{scope}
\end{tikzpicture}
\end{document}
